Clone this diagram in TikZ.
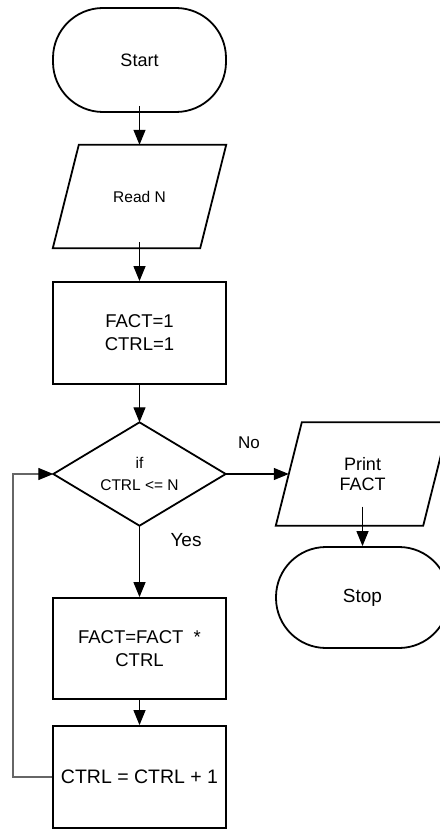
\documentclass[tikz,border=0pt]{standalone}
\usepackage{fontspec}
\setmainfont{Liberation Sans}
\usetikzlibrary{arrows.meta}
\begin{document}
\begin{tikzpicture}[x=1pt,y=-1pt,
  shapeline/.style={line width=1.8pt, draw=black},
  box/.style={shapeline, minimum width=173pt, minimum height=102pt, inner sep=0pt, align=center},
  term/.style={box, rounded corners=50pt},
  holder/.style={minimum width=173pt, minimum height=103pt, inner sep=0pt, align=center},
  flow/.style={line width=1.2pt, draw=black, -{Triangle[length=15pt,width=12pt]}},
  back/.style={line width=1.2pt, draw=black!60, -{Triangle[length=15pt,width=12pt,color=black]}},
  lbl/.style={inner sep=0pt, align=center}
]
\useasboundingbox (0,0) rectangle (439,829);

% nodes
\node[term, minimum height=104pt, font=\fontsize{18}{22}\selectfont] (start) at (139.5,60) {Start};
\node[holder, font=\fontsize{15.5}{20}\selectfont] (read) at (139.5,196.5) {Read N};
\node[box, font=\fontsize{18.5}{23}\selectfont] (init) at (139.5,333) {FACT=1\\CTRL=1};
\node[holder, minimum width=172pt, font=\fontsize{15.5}{22}\selectfont] (dec) at (139.5,474) {if\\CTRL <= N};
\node[box, minimum height=101pt, font=\fontsize{18.5}{23}\selectfont] (mult) at (139.5,648.5) {FACT=FACT~~*\\CTRL};
\node[box, font=\fontsize{19.5}{23}\selectfont] (incr) at (139.5,777) {CTRL = CTRL + 1};
\node[holder, font=\fontsize{18}{20}\selectfont] (print) at (362.5,474) {Print\\FACT};
\node[term, minimum height=101pt, font=\fontsize{19}{22}\selectfont] (stop) at (362.5,597.5) {Stop};
\node[lbl, font=\fontsize{19}{22}\selectfont] (yes) at (186,540) {Yes};
\node[lbl, font=\fontsize{17}{20}\selectfont] (no) at (249,443) {No};

% outlines of parallelograms and diamond
\draw[shapeline] (read.south west) -- ([xshift=-26pt]read.south east) -- (read.north east) -- ([xshift=26pt]read.north west) -- cycle;
\draw[shapeline] (print.south west) -- ([xshift=-26pt]print.south east) -- (print.north east) -- ([xshift=26pt]print.north west) -- cycle;
\draw[shapeline] (dec.north) -- (dec.east) -- (dec.south) -- (dec.west) -- cycle;

% connectors
\draw[flow] ([yshift=7pt]start.south) -- (read.north);
\draw[flow] ([yshift=6pt]read.south) -- (init.north);
\draw[flow] (init.south) -- (dec.north);
\draw[flow] (dec.south) -- (mult.north);
\draw[flow] (mult.south) -- (incr.north);
\draw[flow] (dec.east) -- ([xshift=13pt]print.west);
\draw[flow] ([yshift=19pt]print.south) -- (stop.north);
\coordinate (loopc) at (13,777);
\draw[back] (incr.west) -- (loopc) |- (dec.west);
\end{tikzpicture}
\end{document}
